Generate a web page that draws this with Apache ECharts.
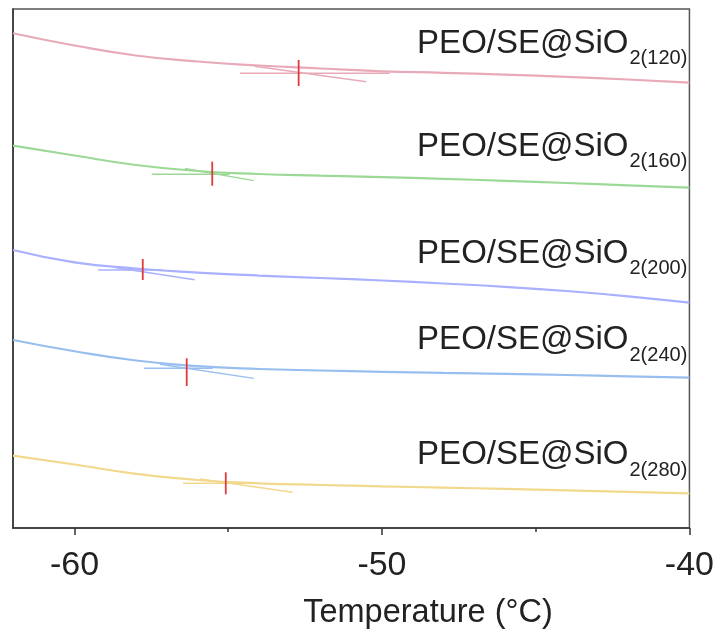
<!DOCTYPE html>
<html>
<head>
<meta charset="utf-8">
<script src="https://cdn.jsdelivr.net/npm/echarts@6/dist/echarts.min.js"></script>
<style>html,body{margin:0;padding:0;background:#fff}#c{width:717px;height:637px}</style>
</head>
<body>
<div id="c"></div>
<script>
// ---- data ----
const temps = [-62, -60, -58, -56, -54, -52, -50, -48, -46, -44, -42, -40];
const sampleTags = ['120', '160', '200', '240', '280'];
const heat120 = [95.32, 92.97, 91.04, 89.88, 89.11, 88.54, 88.00, 87.71, 87.36, 86.94, 86.42, 85.80];
const heat160 = [73.66, 71.77, 69.94, 68.79, 68.21, 67.88, 67.59, 67.28, 66.90, 66.47, 66.03, 65.57];
const heat200 = [53.56, 51.19, 50.00, 49.21, 48.63, 48.17, 47.69, 47.11, 46.47, 45.66, 44.64, 43.41];
const heat240 = [36.22, 34.05, 32.27, 31.18, 30.64, 30.35, 30.10, 29.90, 29.71, 29.48, 29.23, 28.96];
const heat280 = [13.93, 12.24, 10.44, 9.25, 8.61, 8.29, 8.02, 7.78, 7.53, 7.26, 6.97, 6.69];
// tangent construction lines: [[T1, H1], [T2, H2]]
const tangentAfter = [
  [[-54.62, 87.61], [-49.75, 87.61]],
  [[-57.49, 68.15], [-54.95, 68.15]],
  [[-59.23, 49.71], [-57.13, 49.71]],
  [[-57.74, 30.77], [-55.50, 30.77]],
  [[-56.47, 8.61], [-54.20, 8.61]]
];
const tangentBefore = [
  [[-54.14, 88.98], [-50.51, 85.99]],
  [[-56.41, 69.27], [-54.17, 66.92]],
  [[-58.69, 50.19], [-56.09, 47.84]],
  [[-57.22, 31.54], [-54.17, 28.84]],
  [[-55.92, 9.44], [-52.91, 6.88]]
];
// glass transition (Tg) markers
const tgTemp = [-52.71, -55.52, -57.78, -56.35, -55.08];
const tgSpan = [[85.16, 90.17], [65.95, 70.58], [47.78, 51.83], [27.36, 32.70], [6.49, 10.73]];
const majorTicks = [-60, -50, -40];
const minorTicks = [-55, -45];

// ---- styles / layout ----
const colors = ['#e8a9b8', '#9cd896', '#a8b0ff', '#98bef0', '#f2d88c'];
const tgColor = '#e03a3a';
const labelCenterY = [42.5, 145.8, 252.5, 339, 454];
const curves = [heat120, heat160, heat200, heat240, heat280];

const series = [];
curves.forEach((c, i) => {
  series.push({
    type: 'line', xAxisIndex: 0, data: temps.map((t, k) => [t, c[k]]),
    smooth: 0.5, showSymbol: false, symbol: 'none',
    lineStyle: { color: colors[i], width: 2.2 }, z: 3
  });
  series.push({
    type: 'line', xAxisIndex: 0, data: tangentAfter[i], showSymbol: false, symbol: 'none',
    lineStyle: { color: colors[i], width: 1.4 }, z: 2
  });
  series.push({
    type: 'line', xAxisIndex: 0, data: tangentBefore[i], showSymbol: false, symbol: 'none',
    lineStyle: { color: colors[i], width: 1.4 }, z: 2
  });
  series.push({
    type: 'line', xAxisIndex: 0, data: [[tgTemp[i], tgSpan[i][0]], [tgTemp[i], tgSpan[i][1]]],
    showSymbol: false, symbol: 'none',
    lineStyle: { color: tgColor, width: 1.8 }, z: 4
  });
});

const graphic = [];
sampleTags.forEach((tag, i) => {
  graphic.push({
    type: 'text', x: 628.5, y: labelCenterY[i] + 1,
    style: { text: 'PEO/SE@SiO', fill: '#222', font: '33px "Liberation Sans", Arial, sans-serif',
      align: 'right', verticalAlign: 'middle' }
  });
  graphic.push({
    type: 'text', x: 629.5, y: labelCenterY[i] + 16,
    style: { text: '2(' + tag + ')', fill: '#222', font: '20px "Liberation Sans", Arial, sans-serif',
      align: 'left', verticalAlign: 'middle' }
  });
});
graphic.push({
  type: 'text', x: 428, y: 613,
  style: { text: 'Temperature (°C)', fill: '#222', font: '32.5px "Liberation Sans", Arial, sans-serif',
    align: 'center', verticalAlign: 'middle' }
});

const chart = echarts.init(document.getElementById('c'), null, { renderer: 'canvas' });
chart.setOption({
  animation: false,
  backgroundColor: '#fff',
  grid: { left: 13, right: 27, top: 9, bottom: 109, show: true, borderColor: '#555', borderWidth: 1.5 },
  xAxis: [{
    type: 'value', min: -62, max: -40, position: 'bottom',
    axisLine: { show: true, onZero: false, lineStyle: { color: '#333', width: 1.5 } },
    axisTick: { show: true, length: 7, customValues: majorTicks, lineStyle: { color: '#333', width: 1.5 } },
    axisLabel: { customValues: majorTicks, fontSize: 34, color: '#222', margin: 21,
      fontFamily: '"Liberation Sans", Arial, sans-serif' },
    splitLine: { show: false }
  }, {
    type: 'value', min: -62, max: -40, position: 'bottom',
    axisLine: { show: false, onZero: false },
    axisTick: { show: true, length: 4, customValues: minorTicks, lineStyle: { color: '#333', width: 1.5 } },
    axisLabel: { show: false },
    splitLine: { show: false }
  }],
  yAxis: {
    type: 'value', min: 0, max: 100,
    axisLine: { show: true, onZero: false, lineStyle: { color: '#333', width: 1.5 } },
    axisTick: { show: false }, axisLabel: { show: false }, splitLine: { show: false }
  },
  series: series,
  graphic: graphic
});
</script>
</body>
</html>
